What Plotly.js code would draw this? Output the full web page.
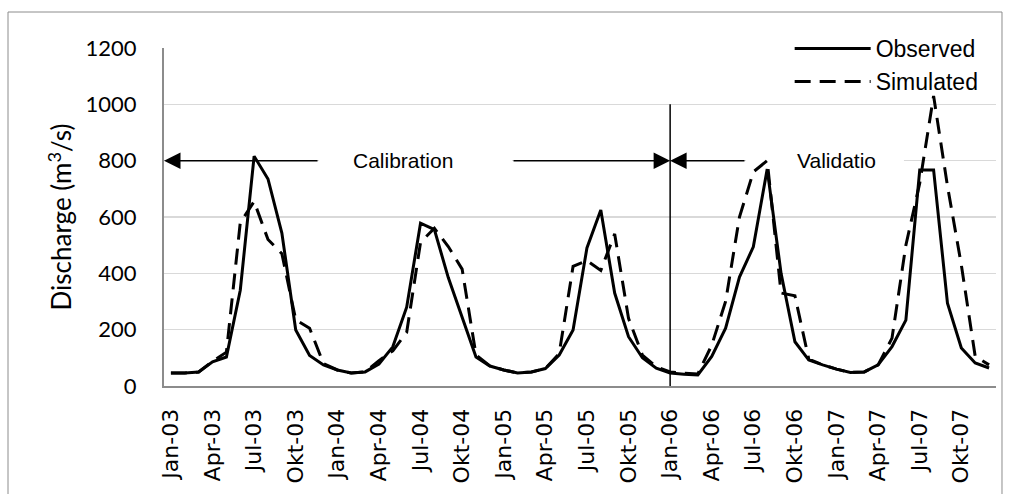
<!DOCTYPE html>
<html>
<head>
<meta charset="utf-8">
<script src="https://cdn.plot.ly/plotly-3.0.1.min.js"></script>
<style>html,body{margin:0;padding:0;background:#fff;}#chart{width:1010px;height:494px;}</style>
</head>
<body>
<div id="chart"></div>
<script>
// Monthly categories, Jan-2003 .. Dec-2007
const months = [
  "Jan-03","Feb-03","Mar-03","Apr-03","Mei-03","Jun-03","Jul-03","Agu-03","Sep-03","Okt-03","Nov-03","Des-03",
  "Jan-04","Feb-04","Mar-04","Apr-04","Mei-04","Jun-04","Jul-04","Agu-04","Sep-04","Okt-04","Nov-04","Des-04",
  "Jan-05","Feb-05","Mar-05","Apr-05","Mei-05","Jun-05","Jul-05","Agu-05","Sep-05","Okt-05","Nov-05","Des-05",
  "Jan-06","Feb-06","Mar-06","Apr-06","Mei-06","Jun-06","Jul-06","Agu-06","Sep-06","Okt-06","Nov-06","Des-06",
  "Jan-07","Feb-07","Mar-07","Apr-07","Mei-07","Jun-07","Jul-07","Agu-07","Sep-07","Okt-07","Nov-07","Des-07"
];
const tickLabels = ["Jan-03","Apr-03","Jul-03","Okt-03","Jan-04","Apr-04","Jul-04","Okt-04","Jan-05","Apr-05",
  "Jul-05","Okt-05","Jan-06","Apr-06","Jul-06","Okt-06","Jan-07","Apr-07","Jul-07","Okt-07"];

const observed = [
  46, 46, 50, 86, 103, 340, 816, 735, 543, 199, 108, 75,
  57, 46, 50, 78, 139, 280, 578, 555, 385, 240, 103, 71,
  57, 46, 50, 62, 110, 199, 490, 625, 330, 175, 100, 63,
  46, 42, 39, 105, 205, 387, 494, 770, 400, 157, 92, 75,
  60, 48, 50, 75, 140, 234, 767, 767, 294, 135, 82, 64
];
const simulated = [
  46, 46, 50, 88, 120, 580, 655, 520, 470, 235, 205, 80,
  57, 46, 50, 90, 125, 190, 510, 560, 495, 415, 110, 71,
  57, 46, 50, 62, 115, 425, 445, 410, 540, 240, 110, 68,
  50, 45, 43, 145, 300, 600, 760, 800, 330, 320, 95, 75,
  60, 48, 50, 75, 170, 500, 720, 1030, 710, 430, 105, 75
];

const splitMonth = "Jan-06";
const arrowLevel = 800;
const splitTop = 1000;

const traces = [
  {x: months, y: observed, type: "scatter", mode: "lines", name: "Observed",
   line: {color: "#000000", width: 3}},
  {x: months, y: simulated, type: "scatter", mode: "lines", name: "Simulated",
   line: {color: "#000000", width: 3, dash: "16px,9px"}}
];

const splitIdx = months.indexOf(splitMonth);
const annFont = {family: "Liberation Sans, Arial, sans-serif", size: 21, color: "#000"};

const layout = {
  width: 1010, height: 494,
  margin: {l: 164, r: 14, t: 48, b: 108},
  paper_bgcolor: "#ffffff", plot_bgcolor: "#ffffff",
  showlegend: true,
  legend: {
    x: 0.752, y: 1.062, xanchor: "left", yanchor: "top",
    bgcolor: "rgba(0,0,0,0)", borderwidth: 0,
    itemwidth: 76, tracegroupgap: 0,
    font: {family: "Liberation Sans, Arial, sans-serif", size: 23, color: "#000"}
  },
  xaxis: {
    type: "category", range: [-0.5, months.length - 0.5],
    tickmode: "array", tickvals: tickLabels, ticktext: tickLabels,
    tickangle: -90, ticks: "", showgrid: false, zeroline: false,
    showline: true, linecolor: "#8c8c8c", linewidth: 2,
    ticklabelstandoff: 12,
    tickfont: {family: "DejaVu Sans, sans-serif", size: 22, color: "#000"}
  },
  yaxis: {
    range: [0, 1200], dtick: 200, tick0: 0, ticks: "",
    showgrid: true, gridcolor: "#d9d9d9", gridwidth: 1.5,
    zeroline: false, showline: true, linecolor: "#8c8c8c", linewidth: 2,
    ticklabelstandoff: 21,
    tickfont: {family: "Lato, sans-serif", size: 22, color: "#000"},
    title: {text: "Discharge (m<sup>3</sup>/s)", standoff: 6,
            font: {family: "Lato, sans-serif", size: 26, color: "#000"}}
  },
  shapes: [
    // split line between calibration and validation
    {type: "line", xref: "x", yref: "y", x0: splitIdx, x1: splitIdx, y0: 0, y1: splitTop,
     line: {color: "#000", width: 1.5}, layer: "above"},
    // white text boxes (hide the gridline behind the labels)
    {type: "rect", xref: "x", yref: "y", x0: 10.68, x1: 24.6, y0: 775, y1: 825,
     fillcolor: "#fff", line: {width: 0}, layer: "between"},
    {type: "rect", xref: "x", yref: "y", x0: 41.47, x1: 52.86, y0: 775, y1: 825,
     fillcolor: "#fff", line: {width: 0}, layer: "between"},
    // outer chart border
    {type: "rect", xref: "paper", yref: "paper", x0: -0.1875, x1: 1.0072, y0: -0.34, y1: 1.1065,
     line: {color: "#8c8c8c", width: 1}, fillcolor: "rgba(0,0,0,0)", layer: "above"}
  ],
  annotations: [
    {x: 16.74, y: arrowLevel, xref: "x", yref: "y", text: "Calibration", showarrow: false, font: annFont},
    {x: 48.03, y: arrowLevel, xref: "x", yref: "y", text: "Validatio", showarrow: false, font: annFont},
    {x: -0.5, y: arrowLevel, xref: "x", yref: "y", ax: 10.68, ay: arrowLevel, axref: "x", ayref: "y",
     text: "", showarrow: true, arrowhead: 2, arrowsize: 2.2, arrowwidth: 1.5, arrowcolor: "#000"},
    {x: splitIdx, y: arrowLevel, xref: "x", yref: "y", ax: 24.6, ay: arrowLevel, axref: "x", ayref: "y",
     text: "", showarrow: true, arrowhead: 2, arrowsize: 2.2, arrowwidth: 1.5, arrowcolor: "#000"},
    {x: splitIdx, y: arrowLevel, xref: "x", yref: "y", ax: 41.47, ay: arrowLevel, axref: "x", ayref: "y",
     text: "", showarrow: true, arrowhead: 2, arrowsize: 2.2, arrowwidth: 1.5, arrowcolor: "#000"}
  ]
};

Plotly.newPlot("chart", traces, layout, {displayModeBar: false, staticPlot: true});
</script>
</body>
</html>
